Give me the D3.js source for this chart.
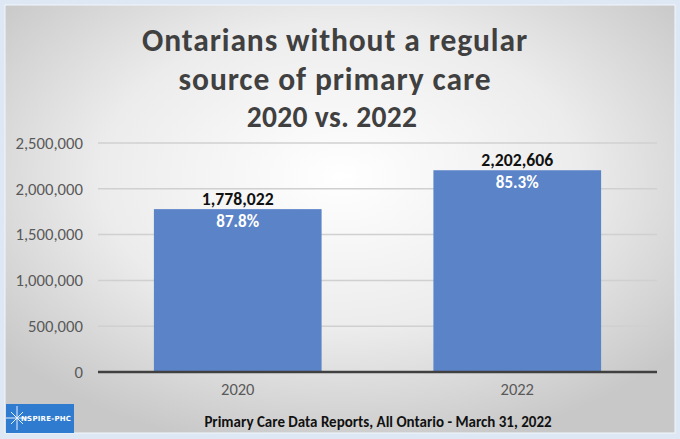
<!DOCTYPE html>
<html><head><meta charset="utf-8">
<script src="https://cdn.jsdelivr.net/npm/d3@7"></script>
<style>html,body{margin:0;padding:0;background:#e3ecf6;}svg{display:block;font-family:Carlito,Calibri,Lato,sans-serif;}</style>
</head><body>
<script>
const categories = ["2020", "2022"];
const values = [1778022, 2202606];
const percents = ["87.8%", "85.3%"];
const yTicks = [0, 500000, 1000000, 1500000, 2000000, 2500000];
const titleLines = ["Ontarians without a regular", "source of primary care"];
const subtitle = "2020 vs. 2022";
const footer = "Primary Care Data Reports, All Ontario - March 31, 2022";

const W = 680, H = 439;
const FONT = "Carlito,Calibri,Lato,sans-serif";
const svg = d3.select("body").append("svg").attr("width", W).attr("height", H);
const defs = svg.append("defs");
const rg = defs.append("radialGradient").attr("id","bg").attr("cx","50%").attr("cy","40%").attr("r","65%");
rg.append("stop").attr("offset","0%").attr("stop-color","#ffffff");
rg.append("stop").attr("offset","55%").attr("stop-color","#ececec");
rg.append("stop").attr("offset","100%").attr("stop-color","#c8c8c8");

svg.append("rect").attr("x",0).attr("y",0).attr("width",W).attr("height",H).attr("fill","#dde8f4");
svg.append("rect").attr("x",5).attr("y",5).attr("width",670).attr("height",428).attr("fill","url(#bg)").attr("stroke","#f2f6fb").attr("stroke-width",1);

const x = d3.scaleBand().domain(categories).range([98, 657]).paddingInner(0.4).paddingOuter(0.2);
const y = d3.scaleLinear().domain([0, 2500000]).range([372, 143]);

// gridlines
svg.append("g").selectAll("line").data(yTicks.filter(d=>d>0)).join("line")
  .attr("x1",98).attr("x2",657).attr("y1",d=>y(d)).attr("y2",d=>y(d))
  .attr("stroke","#d0d0d0").attr("stroke-width",1.5);

// y axis labels
const yAxis = d3.axisLeft(y).tickValues(yTicks).tickFormat(d3.format(",")).tickSize(0).tickPadding(15);
const ya = svg.append("g").attr("transform","translate(98,0)").call(yAxis);
ya.select(".domain").remove();
ya.selectAll("text").attr("font-size",16.7).attr("fill","#595959").attr("font-family",FONT);

// bars
svg.append("g").selectAll("rect").data(values).join("rect")
  .attr("x",(d,i)=>x(categories[i])).attr("width",x.bandwidth())
  .attr("y",d=>y(d)).attr("height",d=>y(0)-y(d))
  .attr("fill","#5b83c8");

// baseline
svg.append("line").attr("x1",98).attr("x2",657).attr("y1",y(0)).attr("y2",y(0)).attr("stroke","#404040").attr("stroke-width",2.5);

// x axis labels
const xAxis = d3.axisBottom(x).tickSize(0).tickPadding(11);
const xa = svg.append("g").attr("transform",`translate(0,${y(0)})`).call(xAxis);
xa.select(".domain").remove();
xa.selectAll("text").attr("font-size",16.5).attr("fill","#595959").attr("font-family",FONT);

// value labels
svg.append("g").selectAll("text").data(values).join("text")
  .attr("x",(d,i)=>x(categories[i])+x.bandwidth()/2).attr("y",d=>y(d)-4)
  .attr("text-anchor","middle").attr("font-size",17.7).attr("font-weight","bold").attr("fill","#111")
  .text(d=>d3.format(",")(d));
svg.append("g").selectAll("text").data(values).join("text")
  .attr("x",(d,i)=>x(categories[i])+x.bandwidth()/2).attr("y",d=>y(d)+18)
  .attr("text-anchor","middle").attr("font-size",17).attr("font-weight","bold").attr("fill","#ffffff")
  .text((d,i)=>percents[i]);

// title
svg.append("g").selectAll("text").data(titleLines).join("text")
  .attr("x",335).attr("y",(d,i)=>51+i*38.6).attr("text-anchor","middle")
  .attr("font-size",31.5).attr("letter-spacing",0.9).attr("font-weight","bold").attr("fill","#404040").text(d=>d);
svg.append("text").attr("x",332).attr("y",127).attr("text-anchor","middle")
  .attr("font-size",29.5).attr("letter-spacing",0.3).attr("font-weight","bold").attr("fill","#404040").text(subtitle);

// footer
svg.append("text").attr("x",378).attr("y",427).attr("text-anchor","middle")
  .attr("font-size",15).attr("font-weight","bold").attr("fill","#111").text(footer);

// logo
const lg = svg.append("g");
lg.append("rect").attr("x",6).attr("y",404).attr("width",68).attr("height",29).attr("fill","#2f7bcf");
const cx=17, cy=418;
[[0,-12],[0,12],[-11,0],[11,0],[-6,-6],[6,6],[-6,6],[6,-6]].forEach(p=>{
  lg.append("line").attr("x1",cx).attr("y1",cy).attr("x2",cx+p[0]).attr("y2",cy+p[1]).attr("stroke","#e8f2ff").attr("stroke-width",1);
});
lg.append("text").attr("x",21).attr("y",421).attr("font-size",7).attr("font-weight","bold").attr("fill","#ffffff").attr("font-family","'DejaVu Sans',sans-serif").attr("textLength",50).text("NSPIRE-PHC");
</script>
</body></html>
